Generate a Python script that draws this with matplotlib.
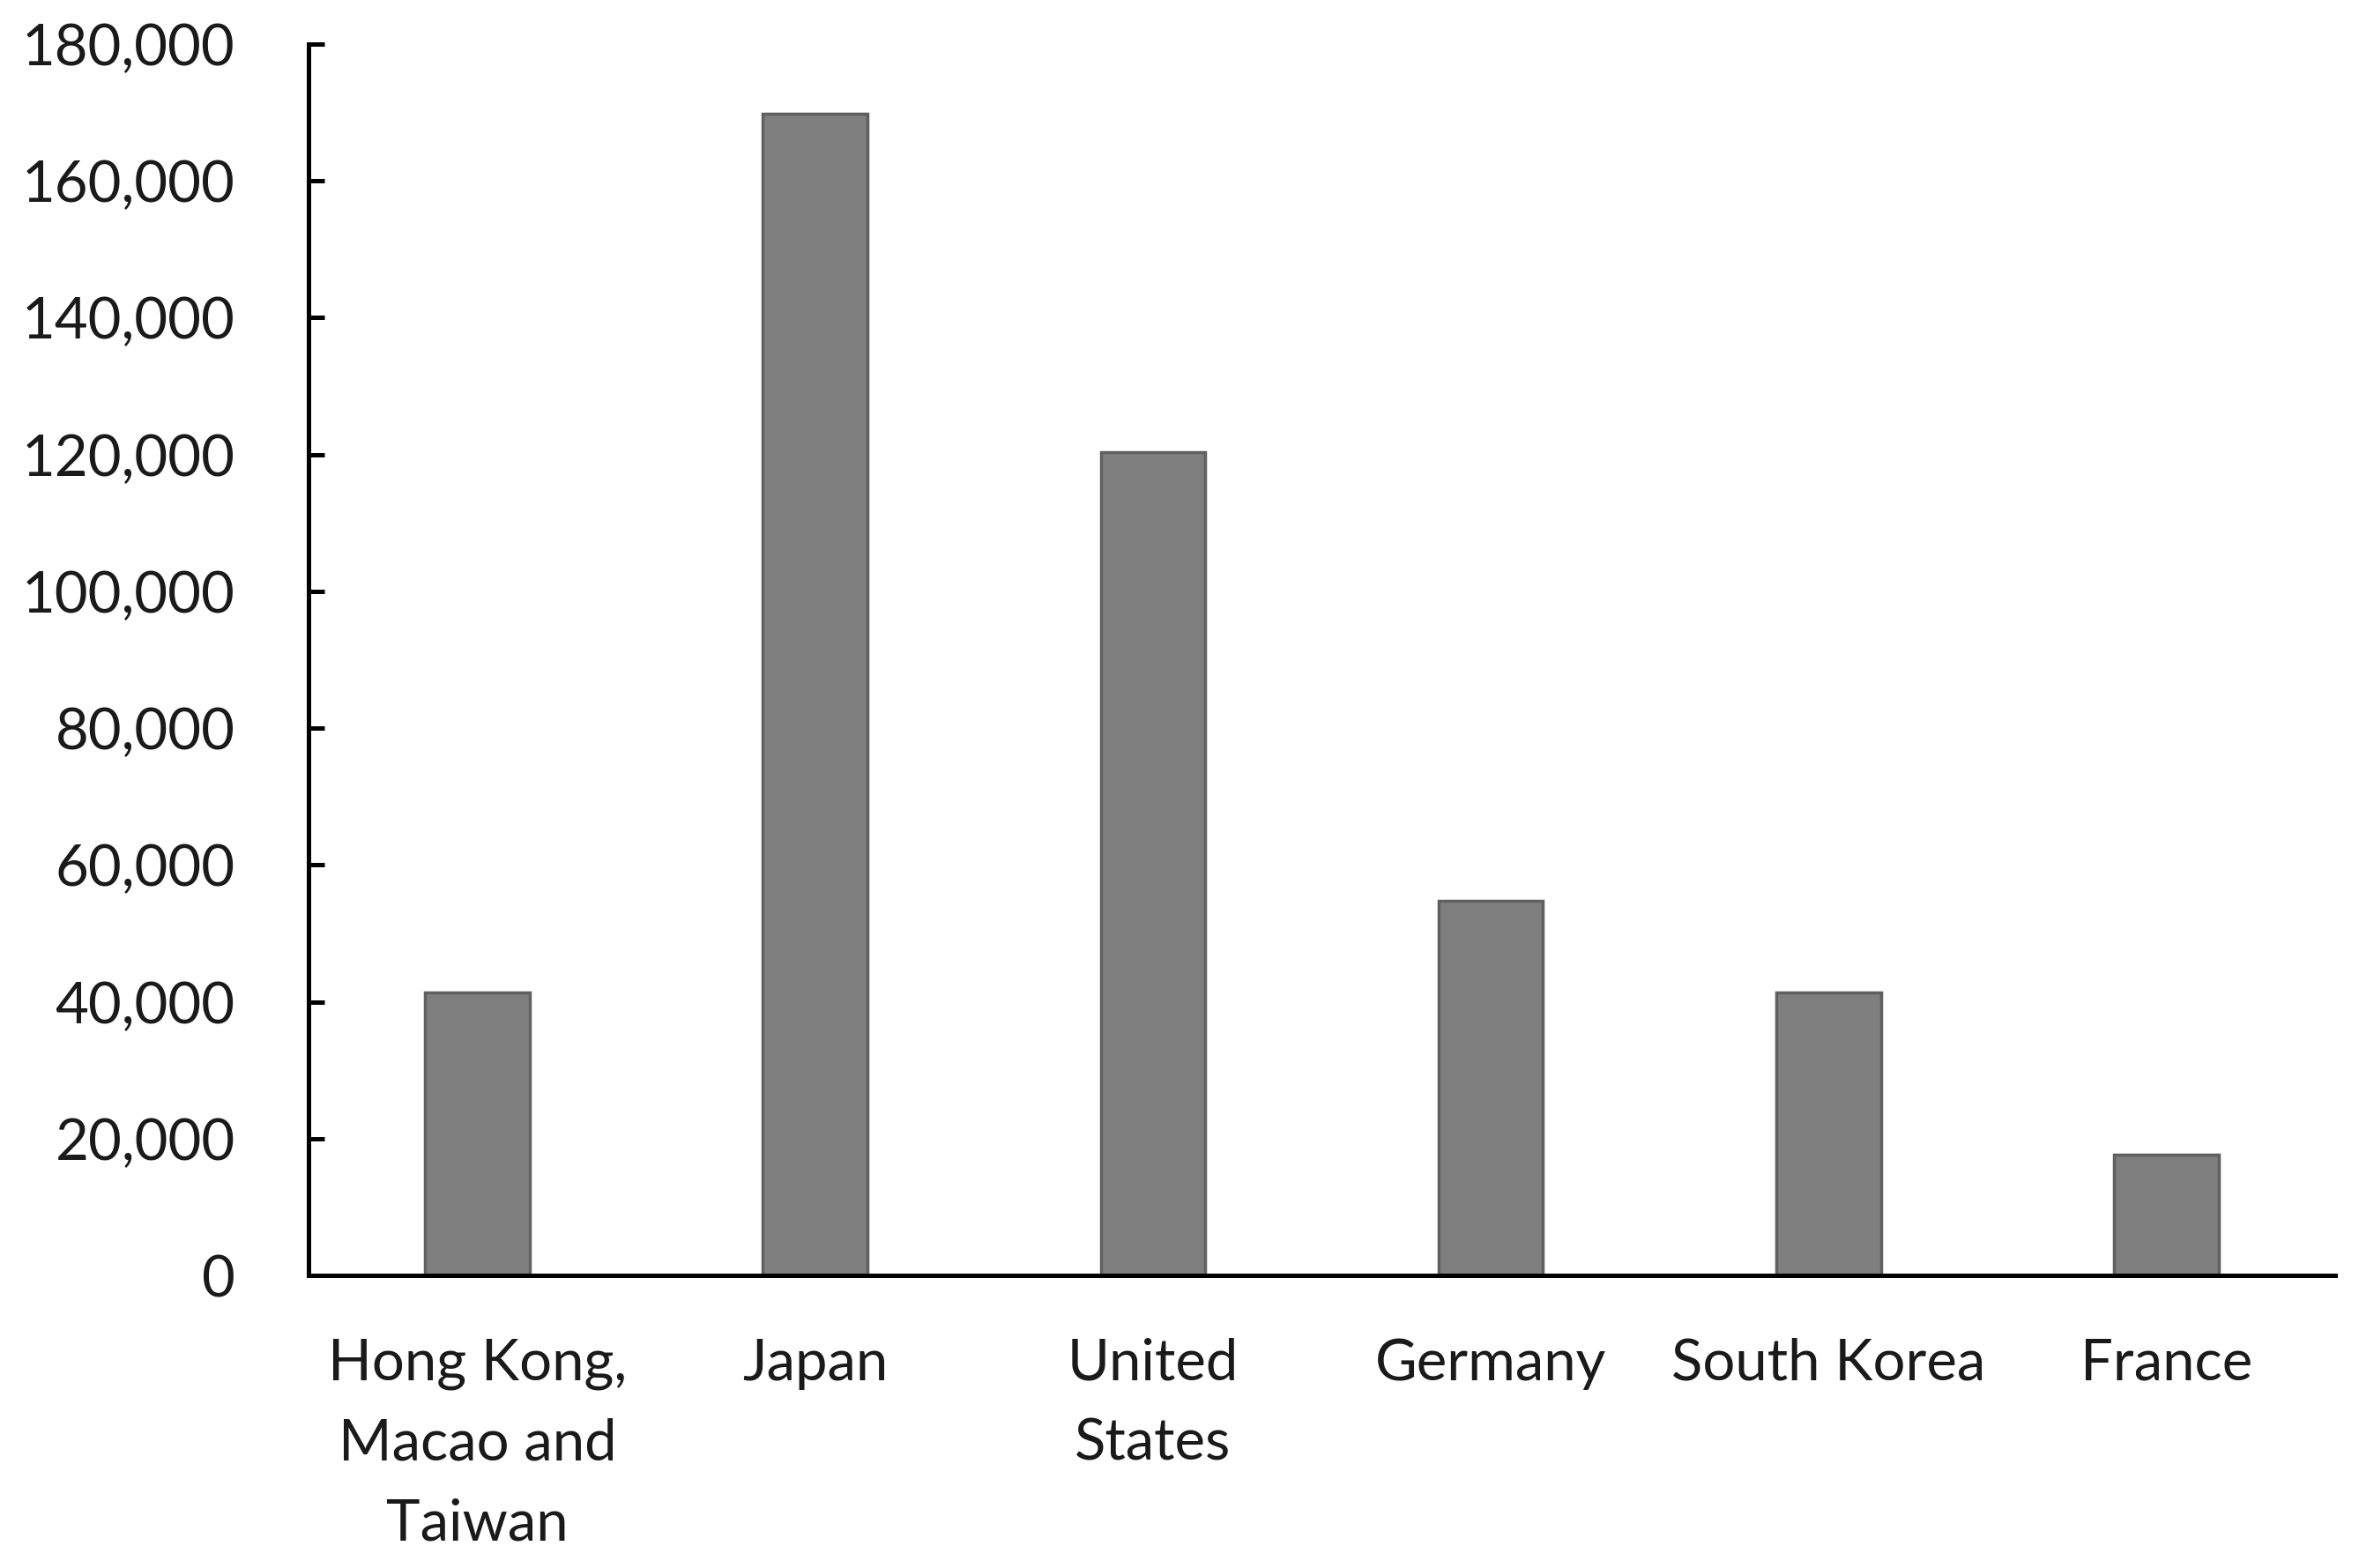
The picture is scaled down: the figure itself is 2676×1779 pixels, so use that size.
import matplotlib
matplotlib.use("Agg")
import matplotlib.pyplot as plt
from matplotlib.ticker import FuncFormatter

categories = ["Hong Kong,\nMacao and\nTaiwan", "Japan", "United\nStates", "Germany", "South Korea", "France"]
values = [41400, 169800, 120300, 54800, 41400, 17600]
yticks = [0, 20000, 40000, 60000, 80000, 100000, 120000, 140000, 160000, 180000]

plt.rcParams['font.family'] = ['Lato', 'DejaVu Sans']

fig = plt.figure(figsize=(26.76, 17.79), dpi=100)
ax = fig.add_axes([0.1308, 0.1866, 0.8591, 0.7853])

x = list(range(len(categories)))
ax.bar(x, values, width=0.31, color='#7f7f7f', edgecolor='#606060', linewidth=2.5, zorder=2)

ax.set_xlim(-0.5, len(categories) - 0.5)
ax.set_ylim(0, 180000)
ax.set_yticks(yticks)
ax.yaxis.set_major_formatter(FuncFormatter(lambda v, p: f"{int(v):,}"))
ax.set_xticks(x)
ax.set_xticklabels(categories, linespacing=1.66)

for s in ['top', 'right']:
    ax.spines[s].set_visible(False)
for s in ['left', 'bottom']:
    ax.spines[s].set_linewidth(3.6)
    ax.spines[s].set_color('black')

ax.tick_params(axis='y', direction='in', length=13, width=3.6, pad=60,
               labelsize=47, labelcolor='#1a1a1a', color='black')
ax.tick_params(axis='x', length=0, pad=51, labelsize=47, labelcolor='#1a1a1a')

fig.savefig("out.png", dpi=100, facecolor='white')
